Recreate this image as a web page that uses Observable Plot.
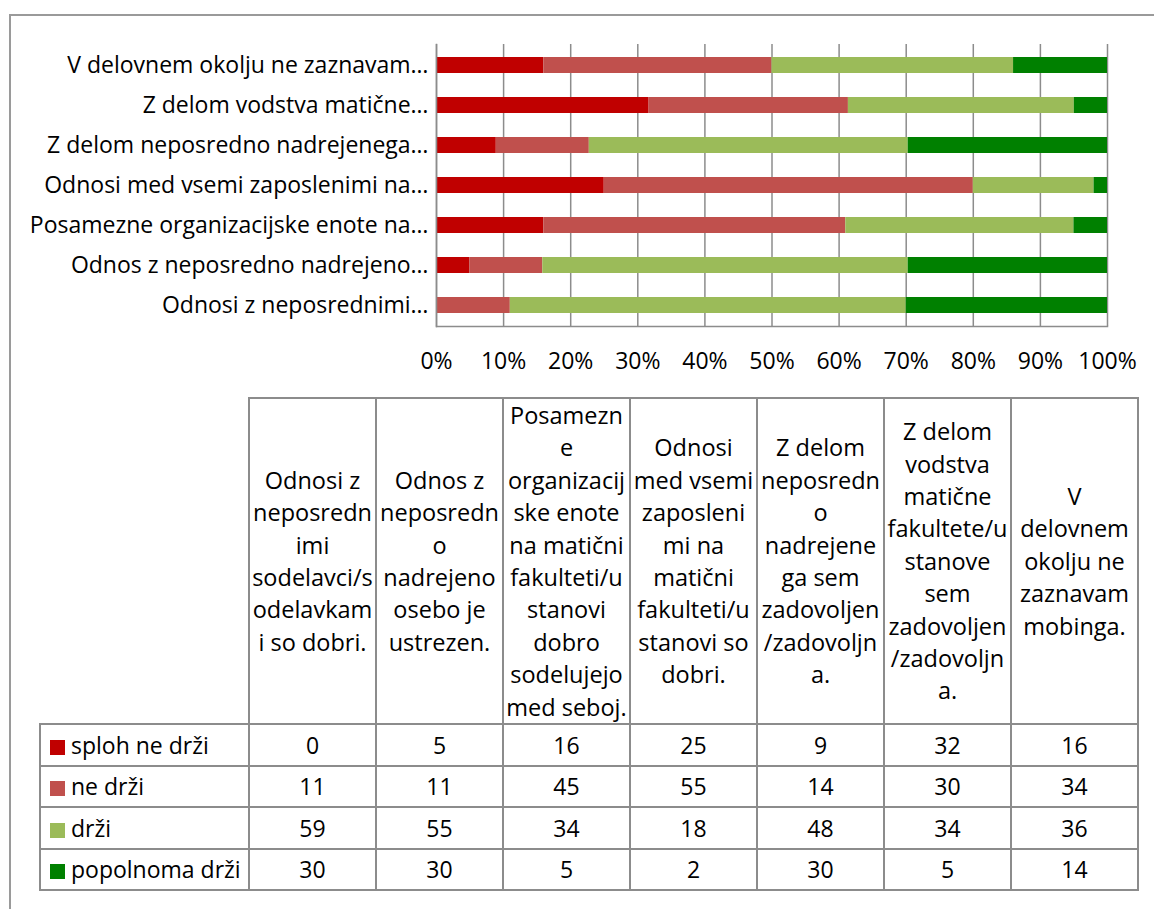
<!DOCTYPE html>
<html>
<head>
<meta charset="utf-8">
<script src="https://cdn.jsdelivr.net/npm/d3@7"></script>
<script src="https://cdn.jsdelivr.net/npm/@observablehq/plot@0.6"></script>
<style>
  html, body { margin: 0; padding: 0; background: #fff; }
  #wrap { position: relative; width: 1154px; height: 909px; overflow: hidden; font-family: "Open Sans", sans-serif; color: #000; }
  #frame { position: absolute; left: 9px; top: 14px; width: 1300px; height: 1000px; border: 2px solid #9a9a9a; box-sizing: border-box; }
  #chart { position: absolute; left: 0; top: 0; }
  #tbl { position: absolute; left: 39px; top: 397px; border-collapse: collapse; font-size: 23px; table-layout: fixed; }
  #tbl td { border: 2px solid #8c8c8c; text-align: center; vertical-align: middle; padding: 0; white-space: nowrap; overflow: visible; }
  #tbl tr.head td { height: 322px; line-height: 32.4px; font-size: 23.5px; }
  #tbl tr.head td.blank { border-top: none; border-left: none; }
  #tbl tr.row td { height: 39.5px; line-height: 26px; }
  #tbl td.leg { text-align: left; padding-left: 9px; }
  .sw { display: inline-block; width: 15px; height: 15px; margin-right: 6px; vertical-align: -1px; }
</style>
</head>
<body>
<div id="wrap">
  <div id="frame"></div>
  <div id="chart"></div>
</div>
<script>
// ---- data ----
const categories = [
  "Odnosi z neposrednimi sodelavci/sodelavkami so dobri.",
  "Odnos z neposredno nadrejeno osebo je ustrezen.",
  "Posamezne organizacijske enote na matični fakulteti/ustanovi dobro sodelujejo med seboj.",
  "Odnosi med vsemi zaposlenimi na matični fakulteti/ustanovi so dobri.",
  "Z delom neposredno nadrejenega sem zadovoljen/zadovoljna.",
  "Z delom vodstva matične fakultete/ustanove sem zadovoljen/zadovoljna.",
  "V delovnem okolju ne zaznavam mobinga."
];
const axisLabels = [
  "Odnosi z neposrednimi…",
  "Odnos z neposredno nadrejeno…",
  "Posamezne organizacijske enote na…",
  "Odnosi med vsemi zaposlenimi na…",
  "Z delom neposredno nadrejenega…",
  "Z delom vodstva matične…",
  "V delovnem okolju ne zaznavam…"
];
const headerLines = [
  ["Odnosi z", "neposredn", "imi", "sodelavci/s", "odelavkam", "i so dobri."],
  ["Odnos z", "neposredn", "o", "nadrejeno", "osebo je", "ustrezen."],
  ["Posamezn", "e", "organizacij", "ske enote", "na matični", "fakulteti/u", "stanovi", "dobro", "sodelujejo", "med seboj."],
  ["Odnosi", "med vsemi", "zaposleni", "mi na", "matični", "fakulteti/u", "stanovi so", "dobri."],
  ["Z delom", "neposredn", "o", "nadrejene", "ga sem", "zadovoljen", "/zadovoljn", "a."],
  ["Z delom", "vodstva", "matične", "fakultete/u", "stanove", "sem", "zadovoljen", "/zadovoljn", "a."],
  ["V", "delovnem", "okolju ne", "zaznavam", "mobinga."]
];
const seriesNames = ["sploh ne drži", "ne drži", "drži", "popolnoma drži"];
const seriesColors = ["#C00000", "#C0504D", "#9BBB59", "#008000"];
const splohNeDrzi   = [0, 5, 16, 25, 9, 32, 16];
const neDrzi        = [11, 11, 45, 55, 14, 30, 34];
const drzi          = [59, 55, 34, 18, 48, 34, 36];
const popolnomaDrzi = [30, 30, 5, 2, 30, 5, 14];
const xTickPercents = [0, 10, 20, 30, 40, 50, 60, 70, 80, 90, 100];

// ---- build ----
const seriesValues = [splohNeDrzi, neDrzi, drzi, popolnomaDrzi];
const rows = [];
seriesNames.forEach((s, si) => {
  categories.forEach((c, ci) => rows.push({category: c, series: s, value: seriesValues[si][ci]}));
});
const labelOf = new Map(categories.map((c, i) => [c, axisLabels[i]]));
const xTicks = xTickPercents.map(p => p / 100);
const font = "Open Sans, sans-serif";

const plot = Plot.plot({
  width: 1154,
  height: 380,
  marginLeft: 436,
  marginRight: 47,
  marginTop: 44,
  marginBottom: 54,
  style: {fontFamily: font, fontSize: "23px", color: "#000", background: "transparent"},
  x: {domain: [0, 1], ticks: xTicks, label: null},
  y: {domain: categories.slice().reverse(), paddingInner: 0.6, paddingOuter: 0.3, label: null},
  color: {domain: seriesNames, range: seriesColors},
  marks: [
    Plot.gridX(xTicks, {stroke: "#8c8c8c", strokeOpacity: 1, strokeWidth: 1.5}),
    Plot.barX(rows, Plot.stackX({offset: "normalize", order: seriesNames, x: "value", y: "category", fill: "series"})),
    Plot.frame({anchor: "left", stroke: "#8c8c8c", strokeWidth: 1.5}),
    Plot.frame({anchor: "bottom", stroke: "#8c8c8c", strokeWidth: 1.5}),
    Plot.axisX(xTicks, {tickSize: 0, tickPadding: 26, tickFormat: d => Math.round(d * 100) + "%", fontSize: 23, label: null}),
    Plot.axisY({tickSize: 0, tickPadding: 8, tickFormat: d => labelOf.get(d), fontSize: 23, label: null})
  ]
});
document.getElementById("chart").appendChild(plot);

// ---- data table ----
const table = document.createElement("table");
table.id = "tbl";
const colgroup = document.createElement("colgroup");
[209, ...categories.map(() => 127)].forEach(w => {
  const col = document.createElement("col");
  col.style.width = w + "px";
  colgroup.appendChild(col);
});
table.appendChild(colgroup);
const head = document.createElement("tr");
head.className = "head";
const blank = document.createElement("td");
blank.className = "blank";
head.appendChild(blank);
headerLines.forEach(lines => {
  const td = document.createElement("td");
  lines.forEach((l, i) => {
    if (i) td.appendChild(document.createElement("br"));
    td.appendChild(document.createTextNode(l));
  });
  head.appendChild(td);
});
table.appendChild(head);
seriesNames.forEach((s, si) => {
  const tr = document.createElement("tr");
  tr.className = "row";
  const leg = document.createElement("td");
  leg.className = "leg";
  const sw = document.createElement("span");
  sw.className = "sw";
  sw.style.background = seriesColors[si];
  leg.appendChild(sw);
  leg.appendChild(document.createTextNode(s));
  tr.appendChild(leg);
  seriesValues[si].forEach(v => {
    const td = document.createElement("td");
    td.textContent = v;
    tr.appendChild(td);
  });
  table.appendChild(tr);
});
document.getElementById("wrap").appendChild(table);
</script>
</body>
</html>
